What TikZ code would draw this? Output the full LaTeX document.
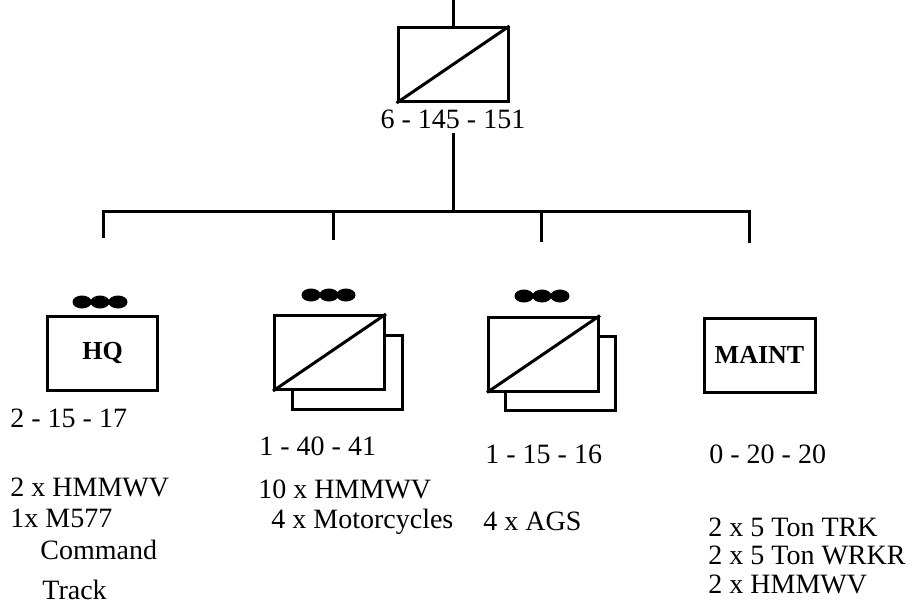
\documentclass[tikz,border=0pt]{standalone}
\usepackage{fontspec}
\setmainfont{Liberation Serif}
\begin{document}
\begin{tikzpicture}[x=0.5pt, y=-0.5pt,
  unitbox/.style={draw, line width=1.5pt, minimum width=55pt, minimum height=37pt, inner sep=0pt, fill=white, font=\fontsize{13}{15}\selectfont\bfseries},
  link/.style={line width=1.5pt},
  strength/.style={anchor=base west, inner sep=0pt, font=\fontsize{14}{16}\selectfont}]
  \useasboundingbox (0,0) rectangle (918,601);
  \clip (0,0) rectangle (918,601);
  % Parent unit.
  \node[unitbox] (top) at (453,64.5) {};
  \draw[link] (top.south west) -- (top.north east);
  \coordinate (feed) at (453,0);
  \draw[link] (feed) -- (top.north);
  \node[strength, anchor=base] (toplbl) at (453,128) {6 - 145 - 151};
  % Bus to the four sub-units.
  \coordinate (bus) at (453,211);
  \draw[link] ([yshift=-2pt]toplbl.south) -- (bus);
  \coordinate (hqT) at (103,211);  \coordinate (hqB) at (103,238);
  \coordinate (scT) at (333,211);  \coordinate (scB) at (333,240);
  \coordinate (agT) at (541,211);  \coordinate (agB) at (541,242);
  \coordinate (mtT) at (749,211);  \coordinate (mtB) at (749,243);
  \draw[link] ([xshift=-0.75pt]hqT) -- ([xshift=0.75pt]mtT);
  \foreach \u in {hq, sc, ag, mt}
    \draw[link] (\u T) -- (\u B);
  % Platoon dots.
  \foreach \x/\y in {82/302, 100/302, 118/302, 311/295, 329/295, 346/295, 524/296, 542/296, 560/296}
    \fill (\x,\y) ellipse (9.5 and 6.5);
  % HQ.
  \node[unitbox] (hq) at (102.5,353) {HQ};
  \node[strength] (hqlbl) at (10,427) {2 - 15 - 17};
  \node[strength] (hq1) at (10,496) {2 x HMMWV};
  \node[strength] (hq2) at (10,527) {1x M577};
  \node[strength] (hq3) at (40,559) {Command};
  \node[strength] (hq4) at (42,599) {Track};
  % Scout platoons.
  \node[unitbox] (scback) at (347,372.5) {};
  \node[unitbox] (sc) at (329.5,352.5) {};
  \draw[link] (sc.south west) -- (sc.north east);
  \node[strength] (sclbl) at (259,455) {1 - 40 - 41};
  \node[strength] (sc1) at (258,498) {10 x HMMWV};
  \node[strength] (sc2) at (271,528) {4 x Motorcycles};
  % AGS platoons.
  \node[unitbox] (agback) at (560,373) {};
  \node[unitbox] (ag) at (543.5,354) {};
  \draw[link] (ag.south west) -- (ag.north east);
  \node[strength] (aglbl) at (485,463) {1 - 15 - 16};
  \node[strength] (ag1) at (483,530) {4 x AGS};
  % Maintenance.
  \node[unitbox, minimum width=55.5pt] (mt) at (759.5,355) {MAINT};
  \node[strength] (mtlbl) at (709,463) {0 - 20 - 20};
  \node[strength] (mt1) at (708,536) {2 x 5 Ton TRK};
  \node[strength] (mt2) at (708,564) {2 x 5 Ton WRKR};
  \node[strength] (mt3) at (708,593) {2 x HMMWV};
\end{tikzpicture}
\end{document}
